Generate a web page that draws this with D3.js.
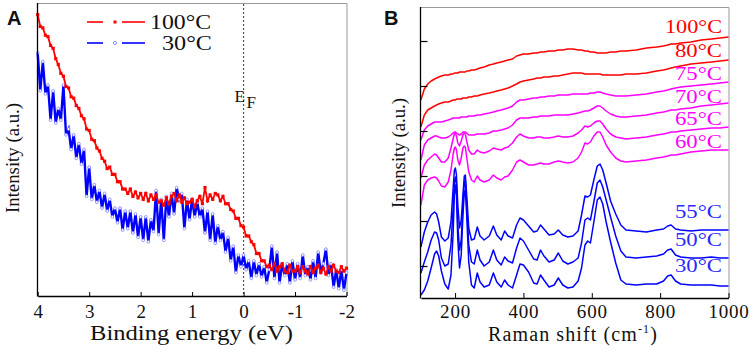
<!DOCTYPE html>
<html><head><meta charset="utf-8">
<script src="https://cdn.jsdelivr.net/npm/d3@7"></script>
<style>body{margin:0;background:#fff}svg{display:block}</style>
</head><body>
<svg id="c" width="754" height="353"></svg>
<script>
// ---------- Panel A data ----------
const energyA = [4,3.95,3.9,3.85,3.8,3.75,3.7,3.65,3.6,3.55,3.5,3.45,3.4,3.35,3.3,3.25,3.2,3.15,3.1,3.05,3,2.95,2.9,2.85,2.8,2.75,2.7,2.65,2.6,2.55,2.5,2.45,2.4,2.35,2.3,2.25,2.2,2.15,2.1,2.05,2,1.95,1.9,1.85,1.8,1.75,1.7,1.65,1.6,1.55,1.5,1.45,1.4,1.35,1.3,1.25,1.2,1.15,1.1,1.05,1,0.95,0.9,0.85,0.8,0.75,0.7,0.65,0.6,0.55,0.5,0.45,0.4,0.35,0.3,0.25,0.2,0.15,0.1,0.05,0,-0.05,-0.1,-0.15,-0.2,-0.25,-0.3,-0.35,-0.4,-0.45,-0.5,-0.55,-0.6,-0.65,-0.7,-0.75,-0.8,-0.85,-0.9,-0.95,-1,-1.05,-1.1,-1.15,-1.2,-1.25,-1.3,-1.35,-1.4,-1.45,-1.5,-1.55,-1.6,-1.65,-1.7,-1.75,-1.8,-1.85,-1.9,-1.95,-2];
const intensity100C = [96,92,91.5,89,88.5,85.5,84.5,81,79,76,
75,71.5,71,68,67.5,65,64,61.5,60.5,57,
56.5,53.5,53,50.5,49.5,47,46,43.5,44,41.5,
41.5,39,39,36.5,36.5,35,36.5,34,35.5,33.5,
35,33,35,32.5,34.5,33,34.5,32,32.5,31,
33.5,31.5,34,35,32.5,34.5,32,33.5,31.5,32,
33,30.5,32.5,34,31.5,37,32.5,34.5,33,35,
34.5,32.5,34,31.5,31.5,29.5,29,26.5,26.5,24,
23.5,20.5,20.5,18.5,17.5,14.5,14.5,12,12,10,
10.5,9,11,8.5,10,11,8.5,8,10.5,8.5,
8.5,10,8,10,8.5,7.5,10,8,9.5,10.5,
8,9.5,7.5,10,8.5,10.5,8.5,8,10,8.5,
9.5];
const intensity30C = [83,70,80,69,72,60,70,59,64,60,
72,55,57,50,55,47,52,45,50,34,
44,33,38,32,36,30,35,29,33,27,
30,25,30,22.5,29,23,29,21.5,28,20,
27,19,27,18.5,26,22,36,21,33,19,
34,27,35,28,37,33,35,23,33,26,
33,27,32,27,30,21.5,29,19,28,18,
24,19,22,15,20,12,17,8,14,10,
14,9,12,6,12,7,11,6.5,10,4.5,
9,17,6,15,4.5,11,7,11,4.5,12,
5.5,11,6,14,7,10,5.5,12,6,15,
8,11,16,7,11,3,9,2.5,9,2,
8];
const ticksA = [4,3,2,1,0,-1,-2];
const legendA = ["100°C","30°C"];

// ---------- Panel B data ----------
const ramanShift = [100,110,120,130,140,146,152,160,170,180,188,194,198,201,204,208,213,218,223,227,230,234,240,248,256,265,273,285,300,312,322,335,345,355,368,380,390,400,415,430,440,450,460,475,490,502,515,530,545,560,570,580,588,596,606,616,624,632,642,655,670,685,700,730,760,790,810,822,832,845,860,890,920,950,975,1000];
const spec100 = [211,222,227,230,232,233,234,235,236,236,237,237,238,238,238,238,239,239,239,239,239,240,240,241,241,242,243,244,246,247,248,249,250,251,252,255,256,257,257,258,258,259,259,260,260,261,261,262,262,261,261,260,260,259,259,258,258,258,258,259,259,260,260,261,263,264,265,266,267,267,268,269,271,272,273,274];
const spec80 = [184,196,201,203,205,206,207,208,209,209,210,211,211,211,212,212,212,212,213,213,213,213,214,214,215,215,216,217,218,219,220,221,222,223,225,227,229,230,231,232,233,233,234,234,235,235,236,237,238,238,238,237,237,237,237,237,237,236,236,236,236,236,237,237,238,240,241,242,243,244,245,247,248,249,250,251];
const spec75 = [171,181,185,187,189,189,189,189,190,191,192,193,193,193,193,193,193,194,194,194,194,194,195,195,195,196,196,197,198,199,200,201,202,203,205,209,211,211,212,213,213,214,214,215,215,216,216,216,217,217,217,217,217,218,218,219,219,218,217,216,215,215,215,216,217,219,220,221,222,223,224,225,226,227,228,229];
const spec70 = [151,166,171,173,175,175,174,173,173,174,176,178,179,179,178,177,176,177,179,179,179,178,176,176,176,177,177,177,178,180,180,181,182,183,186,191,193,193,193,194,194,195,195,195,196,196,196,196,197,198,199,200,200,201,203,205,205,203,200,197,195,194,194,195,196,198,199,200,201,201,202,203,205,206,207,208];
const spec65 = [133,146,151,154,157,156,153,149,149,153,163,172,177,178,175,168,165,170,176,178,177,170,161,157,157,161,159,158,160,163,162,161,163,164,168,174,177,175,173,173,174,174,173,173,174,175,174,174,175,178,181,185,184,185,188,190,190,187,182,177,174,173,172,173,174,176,177,178,179,179,180,181,182,183,183,184];
const spec60 = [106,126,131,133,134,133,130,125,124,129,141,156,163,164,161,151,146,153,163,165,164,154,139,131,129,135,131,129,131,136,133,131,134,135,141,149,151,149,146,146,147,148,147,147,149,150,149,148,149,153,159,168,167,169,175,179,179,174,166,159,153,150,149,150,151,153,154,155,156,156,157,159,160,161,161,161];
const spec55 = [64,79,89,96,99,97,89,74,70,73,89,121,141,143,136,106,83,91,116,135,136,116,83,71,72,84,75,71,75,85,76,71,80,75,73,86,93,91,85,79,80,86,82,76,77,81,76,74,75,80,96,115,114,116,131,145,147,141,128,110,97,86,81,80,79,81,82,85,86,82,81,80,81,81,81,81];
const spec50 = [38,49,59,71,79,78,71,53,45,47,66,101,129,134,126,86,61,71,106,129,131,106,66,49,47,61,51,45,49,61,51,46,54,50,48,63,73,70,61,52,51,61,55,49,51,58,50,47,49,53,68,91,93,91,109,128,131,124,111,94,75,60,54,53,54,55,57,61,62,56,54,53,53,54,53,53];
const spec30 = [16,21,30,43,57,60,55,40,27,22,36,76,116,126,116,71,43,56,96,119,121,96,49,26,23,38,29,24,26,38,29,24,31,26,23,36,47,46,39,28,27,36,31,24,26,33,26,23,24,30,43,66,70,68,89,111,114,107,89,69,48,31,27,26,27,27,30,35,36,30,27,26,26,26,25,25];
const labelsB = ["100°C","80°C","75°C","70°C","65°C","60°C","55°C","50°C","30°C"];
const ticksB = [200,400,600,800,1000];
const yTicksB = [45,90,135,180,225,270];

// ---------- drawing ----------
const SERIF = "Liberation Serif";
const SANS = "Liberation Sans";
const svg = d3.select("#c");
const RED = "#ff0000", MAG = "#ff00ff", BLU = "#0000ff";
function txt(sel, size) { return sel.attr("font-family", null).style("font-family", SERIF).style("font-size", size + "px").attr("fill", "#111"); }

// Panel A
const xA = d3.scaleLinear().domain([4, -2]).range([37.7, 346.5]);
const yA = d3.scaleLinear().domain([0, 100]).range([296, 3]);
const gA = svg.append("g");
gA.append("line").attr("x1", 37.5).attr("x2", 347).attr("y1", 3.5).attr("y2", 3.5).attr("stroke", "#999");
gA.append("line").attr("x1", 347).attr("x2", 347).attr("y1", 3.5).attr("y2", 296).attr("stroke", "#999");
gA.append("line").attr("x1", xA(0)).attr("x2", xA(0)).attr("y1", 4).attr("y2", 296)
  .attr("stroke", "#555").attr("stroke-width", 1.2).attr("stroke-dasharray", "2,2");

const lineA = d3.line().x((d, i) => xA(energyA[i])).y(d => yA(d));
gA.append("path").datum(intensity30C).attr("d", lineA).attr("fill", "none").attr("stroke", BLU).attr("stroke-width", 2.4);
gA.selectAll("circle.b").data(intensity30C).join("circle").attr("class", "b")
  .attr("cx", (d, i) => xA(energyA[i])).attr("cy", d => yA(d)).attr("r", 1.4)
  .attr("fill", "#fff").attr("stroke", "#8080ff").attr("stroke-width", 0.8);
gA.append("path").datum(intensity100C).attr("d", lineA).attr("fill", "none").attr("stroke", RED).attr("stroke-width", 1.8);
gA.selectAll("rect.r").data(intensity100C).join("rect").attr("class", "r")
  .attr("x", (d, i) => xA(energyA[i]) - 1.6).attr("y", d => yA(d) - 1.6).attr("width", 3.2).attr("height", 3.2).attr("fill", RED);

const axA = gA.append("g").attr("transform", "translate(0,296)")
  .call(d3.axisBottom(xA).tickValues(ticksA).tickSize(-4).tickSizeOuter(0).tickPadding(9).tickFormat(d => String(d)));
axA.attr("font-family", null);
axA.select(".domain").attr("stroke", "#000").attr("stroke-width", 1.3);
txt(axA.selectAll("text"), 19);
gA.append("line").attr("x1", 37.5).attr("x2", 37.5).attr("y1", 3).attr("y2", 296.5).attr("stroke", "#000").attr("stroke-width", 1.3);

// legend A
[[RED, 22, legendA[0], 150], [BLU, 43, legendA[1], 162]].forEach(([c, y, t, tx], k) => {
  gA.append("line").attr("x1", 87).attr("x2", 103).attr("y1", y).attr("y2", y).attr("stroke", c).attr("stroke-width", 1.6);
  gA.append("line").attr("x1", 122).attr("x2", 145).attr("y1", y).attr("y2", y).attr("stroke", c).attr("stroke-width", 1.6);
  if (k === 0) gA.append("rect").attr("x", 113.5).attr("y", y - 1.5).attr("width", 3).attr("height", 3).attr("fill", c);
  else gA.append("circle").attr("cx", 115).attr("cy", y).attr("r", 1.6).attr("fill", "#fff").attr("stroke", "#8080ff").attr("stroke-width", 0.9);
  txt(gA.append("text").attr("x", tx).attr("y", y + 6.5), 20)
    .attr("textLength", k === 0 ? 61 : 50).attr("lengthAdjust", "spacingAndGlyphs").text(t);
});
txt(gA.append("text").attr("x", 234.5).attr("y", 102), 17).text("E");
txt(gA.append("text").attr("x", 246.5).attr("y", 107.5), 17).text("F");
txt(gA.append("text").attr("transform", "translate(19,158) rotate(-90)").attr("text-anchor", "middle"), 19)
  .attr("textLength", 110).attr("lengthAdjust", "spacingAndGlyphs").text("Intensity (a.u.)");
txt(gA.append("text").attr("x", 191.5).attr("y", 340).attr("text-anchor", "middle"), 20)
  .attr("textLength", 203).attr("lengthAdjust", "spacingAndGlyphs").text("Binding energy (eV)");
svg.append("text").attr("x", 7).attr("y", 25).style("font-family", SANS).style("font-weight", "bold").style("font-size", "20px").attr("fill", "#111").text("A");

// Panel B
const xB = d3.scaleLinear().domain([100, 1000]).range([420.9, 728.5]);
const yB = d3.scaleLinear().domain([0, 311]).range([311, 0]);
const gB = svg.append("g");
gB.append("line").attr("x1", 420).attr("x2", 729).attr("y1", 7.5).attr("y2", 7.5).attr("stroke", "#999");
gB.append("line").attr("x1", 729).attr("x2", 729).attr("y1", 7.5).attr("y2", 298).attr("stroke", "#999");
const specs = [spec100, spec80, spec75, spec70, spec65, spec60, spec55, spec50, spec30];
const colsB = [RED, RED, MAG, MAG, MAG, MAG, BLU, BLU, BLU];
const labelY = [33, 57, 80, 103, 125, 148, 218, 246, 272];
const lineB = d3.line().x((d, i) => xB(ramanShift[i])).y(d => yB(d));
specs.slice().reverse().forEach((s, j) => {
  const k = specs.length - 1 - j;
  gB.append("path").datum(s).attr("d", lineB).attr("fill", "none").attr("stroke", colsB[k]).attr("stroke-width", 1.5).attr("stroke-linejoin", "round");
});
labelsB.forEach((t, k) => {
  txt(gB.append("text").attr("x", 722).attr("y", labelY[k]).attr("text-anchor", "end"), 19)
    .attr("textLength", t.length > 4 ? 57 : 47).attr("lengthAdjust", "spacingAndGlyphs")
    .attr("fill", colsB[k] === BLU ? "#2a2aff" : colsB[k]).text(t);
});
const axB = gB.append("g").attr("transform", "translate(0,298)")
  .call(d3.axisBottom(xB).tickValues(ticksB).tickSize(-5).tickSizeOuter(0).tickPadding(7).tickFormat(d => String(d)));
axB.attr("font-family", null);
axB.select(".domain").attr("stroke", "#000").attr("stroke-width", 1.3);
txt(axB.selectAll("text"), 19).style("letter-spacing", "0.8px");
const ayB = gB.append("g").attr("transform", "translate(420.5,0)")
  .call(d3.axisLeft(yB).tickValues(yTicksB).tickSize(-7).tickSizeOuter(0).tickFormat(""));
ayB.select(".domain").remove();
ayB.selectAll("line").attr("stroke", "#000").attr("stroke-width", 1.2);
gB.append("line").attr("x1", 420.5).attr("x2", 420.5).attr("y1", 7).attr("y2", 298.5).attr("stroke", "#000").attr("stroke-width", 1.3);
txt(gB.append("text").attr("transform", "translate(405,153) rotate(-90)").attr("text-anchor", "middle"), 19)
  .attr("textLength", 110).attr("lengthAdjust", "spacingAndGlyphs").text("Intensity (a.u.)");
const xl = txt(gB.append("text").attr("x", 573).attr("y", 341).attr("text-anchor", "middle"), 20).style("letter-spacing", "1.1px");
xl.append("tspan").text("Raman shift (cm");
xl.append("tspan").style("font-size", "12px").attr("dy", -8).text("-1");
xl.append("tspan").attr("dy", 8).text(")");
svg.append("text").attr("x", 384).attr("y", 25).style("font-family", SANS).style("font-weight", "bold").style("font-size", "20px").attr("fill", "#111").text("B");
</script>
</body></html>
